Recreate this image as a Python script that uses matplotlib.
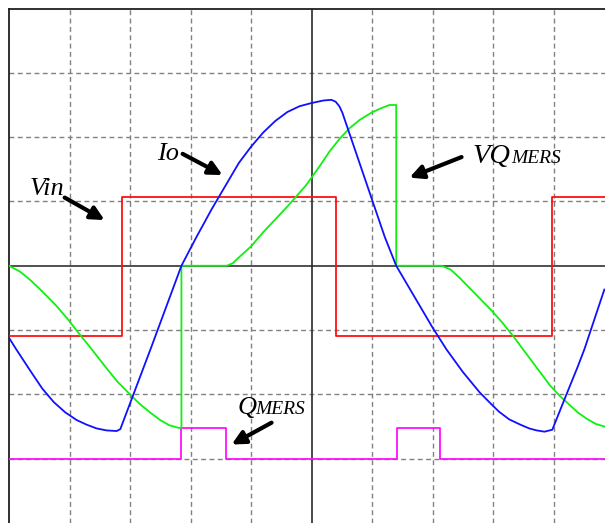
import matplotlib.pyplot as plt

# time axis and levels in scope divisions (centre of screen = 0)
vin_t = [-5.0, -3.14, -3.14, 0.41, 0.41, 3.98, 3.98, 4.9]
vin_v = [-1.09, -1.09, 1.07, 1.07, -1.09, -1.09, 1.07, 1.07]

q_t = [-5.0, -2.15, -2.15, -1.42, -1.42, 1.42, 1.42, 2.13, 2.13, 4.9]
q_v = [-3.0, -3.0, -2.52, -2.52, -3.0, -3.0, -2.52, -2.52, -3.0, -3.0]

vq_t = [-5.0, -4.82, -4.65, -4.45, -4.22, -4.02, -3.83, -3.64, -3.4, -3.2, -3.0, -2.85,
        -2.67, -2.5, -2.35, -2.2, -2.15,
        -2.15, -1.40, -1.3, -1.2, -1.0, -0.8, -0.6, -0.4, -0.25, -0.1, 0.0, 0.15, 0.3,
        0.47, 0.63, 0.8, 0.99, 1.15, 1.29, 1.40,
        1.40, 2.15, 2.3, 2.45, 2.7, 2.98, 3.15, 3.33, 3.52, 3.75, 3.95, 4.1, 4.25, 4.4,
        4.55, 4.7, 4.84]
vq_v = [0.0, -0.09, -0.22, -0.40, -0.62, -0.84, -1.07, -1.29, -1.58, -1.81, -2.00, -2.14,
        -2.28, -2.40, -2.48, -2.52, -2.52,
        0.0, 0.0, 0.04, 0.13, 0.30, 0.52, 0.72, 0.92, 1.08, 1.24, 1.37, 1.57, 1.78,
        1.98, 2.14, 2.27, 2.38, 2.45, 2.50, 2.50,
        0.0, 0.0, -0.06, -0.19, -0.43, -0.70, -0.88, -1.09, -1.33, -1.62, -1.87, -2.02, -2.15, -2.28,
        -2.38, -2.46, -2.50]

io_t = [-5.0, -4.94, -4.88, -4.65, -4.45, -4.26, -4.07, -3.88, -3.72, -3.55, -3.39, -3.22,
        -3.16, -2.65, -2.15,
        -1.9, -1.65, -1.4, -1.2, -1.0, -0.8, -0.6, -0.4, -0.2, 0.0, 0.2, 0.33, 0.40, 0.46, 0.51,
        0.84, 1.21, 1.40,
        1.7, 2.0, 2.23, 2.5, 2.78, 2.98, 3.1, 3.27, 3.45, 3.6, 3.72, 3.85, 3.98,
        4.18, 4.40, 4.51, 4.84]
io_v = [-1.12, -1.21, -1.30, -1.63, -1.91, -2.12, -2.28, -2.40, -2.47, -2.53, -2.56, -2.57,
        -2.54, -1.27, 0.0,
        0.45, 0.88, 1.28, 1.60, 1.85, 2.07, 2.25, 2.39, 2.48, 2.53, 2.57, 2.58, 2.55, 2.48, 2.38,
        1.47, 0.45, 0.0,
        -0.48, -0.96, -1.30, -1.65, -1.97, -2.16, -2.27, -2.39, -2.47, -2.53, -2.56, -2.58, -2.55,
        -2.08, -1.57, -1.30, -0.37]

fig = plt.figure(figsize=(6.05, 5.23), dpi=100)
ax = fig.add_axes([9 / 605, 0, 596 / 605, 514.5 / 523])
ax.set_xlim(-5.0, 4.851)
ax.set_ylim(-4, 4)

# scope graticule
dash = dict(color='#808080', lw=1.0, linestyle=(0, (3.5, 2.5)), zorder=1)
for gx in [-4, -3, -2, -1, 1, 2, 3, 4]:
    ax.axvline(gx, **dash)
for gy in [-3, -2, -1, 1, 2, 3]:
    ax.axhline(gy, **dash)
ax.axvline(0, color='#3a3a3a', lw=1.3, zorder=1)
ax.axhline(0, color='#202020', lw=1.1, zorder=1)

ax.plot(vin_t, vin_v, color='#ff1010', lw=1.3, zorder=3)
ax.plot(q_t, q_v, color='#ff10ff', lw=1.3, zorder=3)
ax.plot(vq_t, vq_v, color='#10f010', lw=1.3, zorder=3)
ax.plot(io_t, io_v, color='#1010ff', lw=1.3, zorder=4)

ax.set_xticks([])
ax.set_yticks([])
for side in ['right', 'bottom']:
    ax.spines[side].set_visible(False)
for side in ['left', 'top']:
    ax.spines[side].set_linewidth(1.3)
    ax.spines[side].set_color('#202020')

big = dict(family='Liberation Serif', style='italic', fontsize=19, va='baseline', ha='left')
small = dict(family='Liberation Serif', style='italic', fontsize=14, va='baseline', ha='left')
ax.text(-2.56, 1.65, 'Io', **big)
ax.text(-4.66, 1.10, 'Vin', **big)
ax.text(2.66, 1.60, 'VQ', family='Liberation Serif', style='italic', fontsize=20.5,
        va='baseline', ha='left')
ax.text(3.30, 1.60, 'MERS', **small)
ax.text(-1.22, -2.31, 'Q', **big)
ax.text(-0.93, -2.31, 'MERS', **small)

arrow = dict(arrowstyle='-|>', lw=3, color='black', mutation_scale=20, shrinkA=0, shrinkB=0)
ax.annotate('', xy=(-1.47, 1.41), xytext=(-2.13, 1.74), arrowprops=arrow)
ax.annotate('', xy=(-3.42, 0.71), xytext=(-4.08, 1.06), arrowprops=arrow)
ax.annotate('', xy=(1.62, 1.37), xytext=(2.48, 1.69), arrowprops=arrow)
ax.annotate('', xy=(-1.32, -2.78), xytext=(-0.66, -2.44), arrowprops=arrow)

fig.savefig('out.png', dpi=100)
